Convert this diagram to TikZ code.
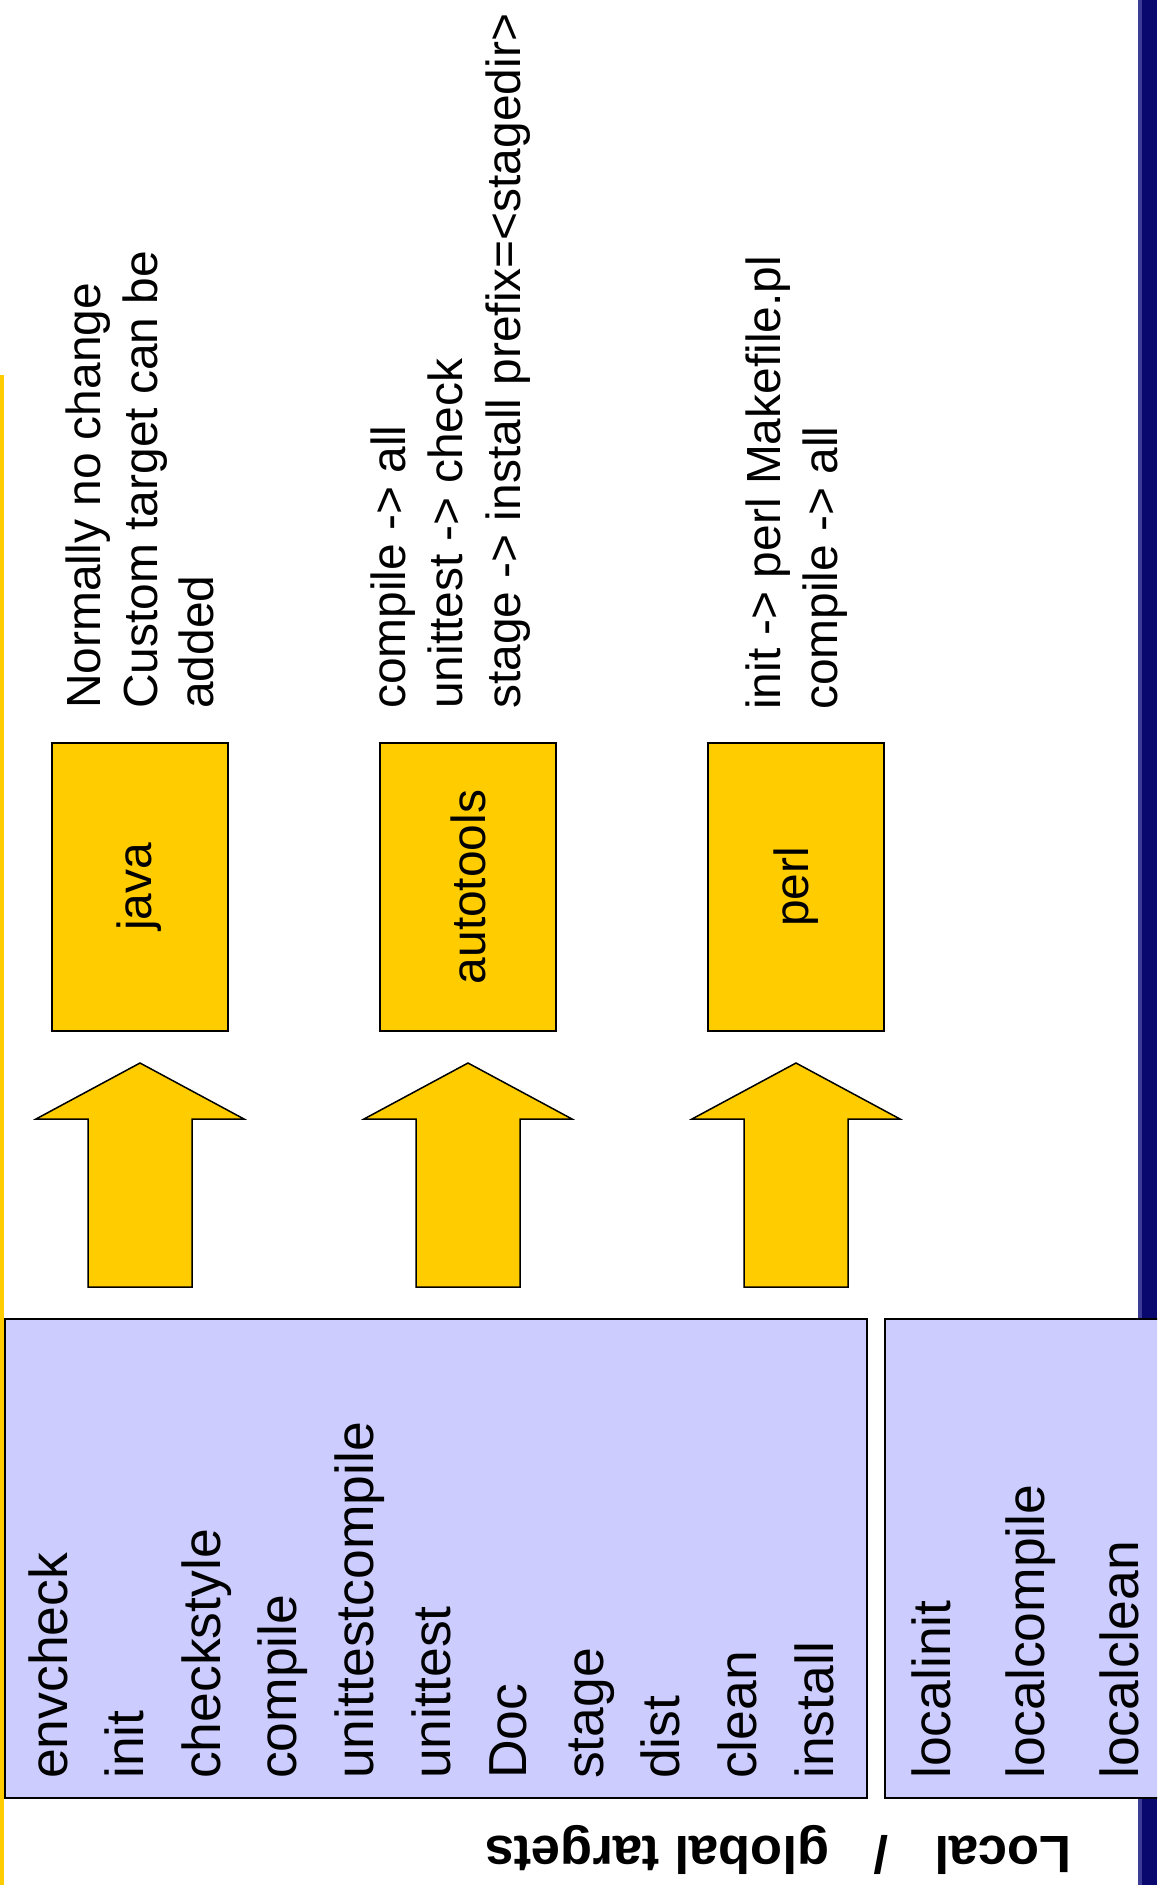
\documentclass[tikz,border=0pt]{standalone}
\usepackage{fontspec}
\setmainfont{Liberation Sans}
\definecolor{gold}{HTML}{FFCC00}
\definecolor{lav}{HTML}{CCCCFF}
\definecolor{navy}{RGB}{8,8,110}
\definecolor{navyedge}{RGB}{60,60,150}
\begin{document}
\begin{tikzpicture}[x=1pt,y=-1pt,
  big/.style={rotate=90,anchor=base west,inner sep=0pt,font=\fontsize{53.5}{64}\selectfont},
  note/.style={rotate=90,anchor=base west,inner sep=0pt,font=\fontsize{47.9}{57}\selectfont},
  tool/.style={rotate=90,draw=black,line width=2pt,fill=gold,minimum width=288pt,minimum height=176pt,inner sep=0pt,font=\fontsize{47.9}{57}\selectfont},
  bigarrow/.style={draw=black,line width=1.5pt,fill=gold,line join=miter},
  panel/.style={draw=black,line width=2.2pt,fill=lav},
  title/.style={rotate=180,anchor=base west,inner sep=0pt,font=\bfseries\fontsize{52.5}{63}\selectfont}]
\fill[white] (0,0) rectangle (1157,1885);
\useasboundingbox (0,0) rectangle (1157,1885);
\begin{scope}
\clip (0,0) rectangle (1157,1885);
% right blue bar
\fill[navy] (1138,0) rectangle (1157,1885);
\fill[navyedge] (1138,0) rectangle (1142,1885);
% left yellow line
\fill[gold] (0,375) rectangle (3.8,1885);
% panels
\draw[panel] (4.7,1319) rectangle (867,1798);
\draw[panel] (885,1319) rectangle (1175,1798);
\end{scope}
% global targets
\foreach \t [count=\i from 0] in {envcheck,init,checkstyle,compile,unittestcompile,unittest,Doc,stage,dist,clean,install}
  \node[big] (g\i) at ({67+76.6*\i},1779) {\t};
% local targets
\node[big] (l0) at (950,1779) {localinit};
\node[big] (l1) at (1044,1779) {localcompile};
\node[big] (l2) at (1138,1779) {localclean};
% title
\node[title] (ttl) at (1072,1836) {Local\hspace{46pt}/\hspace{45pt}global targets};
% tool boxes
\node[tool] (java) at (139.5,887) {java};
\node[tool] (auto) at (468,887) {autotools};
\node[tool] (perl) at (796,887) {perl};
% block arrows
\foreach \cx/\nm in {140/ajava,468/aauto,796/aperl}
  \draw[bigarrow] (\cx-52,1287) -- (\cx-52,1119) -- (\cx-104,1119) -- (\cx,1063)
    -- (\cx+104,1119) -- (\cx+52,1119) -- (\cx+52,1287) -- cycle;
% notes
\node[note] (n1) at (100,709) {Normally no change};
\node[note] (n2) at (157,709) {Custom target can be};
\node[note] (n3) at (213,709) {added};
\node[note] (n4) at (405,709) {compile -> all};
\node[note] (n5) at (462,709) {unittest -> check};
\node[note] (n6) at (520,709) {stage -> install prefix=<stagedir>};
\node[note] (n7) at (780,710) {init -> perl Makefile.pl};
\node[note] (n8) at (837,710) {compile -> all};
\end{tikzpicture}
\end{document}
